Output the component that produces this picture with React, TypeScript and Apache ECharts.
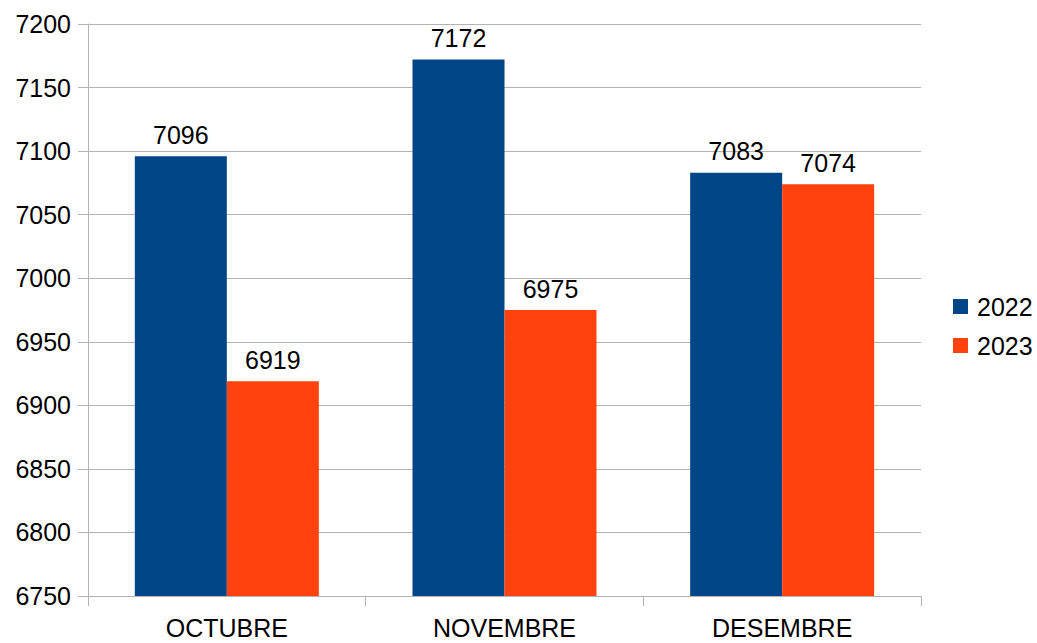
import React, { useEffect, useRef } from "react";
import * as echarts from "echarts";

const categories = ["OCTUBRE", "NOVEMBRE", "DESEMBRE"];
const series2022 = [7096, 7172, 7083];
const series2023 = [6919, 6975, 7074];
const seriesNames = ["2022", "2023"];

export default function App() {
  const ref = useRef<HTMLDivElement>(null);
  useEffect(() => {
    if (!ref.current) return;
    const chart = echarts.init(ref.current, null, { renderer: "svg" });
    const font = "'Liberation Sans', Arial, sans-serif";
    const fs = 25;
    const labelCommon = {
      show: true,
      position: "top" as const,
      distance: 9,
      color: "#000",
      fontSize: fs,
      fontFamily: font,
    };
    chart.setOption({
      animation: false,
      backgroundColor: "#fff",
      grid: { left: 88, right: 116, top: 24, bottom: 47 },
      legend: {
        orient: "vertical",
        left: 953,
        top: 294,
        padding: 0,
        itemWidth: 15,
        itemHeight: 15,
        itemGap: 14,
        icon: "rect",
        textStyle: { fontSize: fs, color: "#000", fontFamily: font, padding: [0, 0, 0, 4] },
        data: seriesNames,
      },
      xAxis: {
        type: "category",
        data: categories,
        axisLine: { lineStyle: { color: "#b3b3b3", width: 1 } },
        axisTick: { show: true, length: 10, lineStyle: { color: "#b3b3b3" } },
        axisLabel: { fontSize: fs, color: "#000", fontFamily: font, margin: 19 },
        splitLine: { show: false },
      },
      yAxis: {
        type: "value",
        min: 6750,
        max: 7200,
        interval: 50,
        axisLine: { show: true, lineStyle: { color: "#b3b3b3", width: 1 } },
        axisTick: { show: true, length: 10, lineStyle: { color: "#b3b3b3" } },
        axisLabel: {
          fontSize: fs,
          color: "#000",
          fontFamily: font,
          margin: 17,
          formatter: (v: number) => String(v),
        },
        splitLine: { show: true, lineStyle: { color: "#b3b3b3", width: 1 } },
      },
      series: [
        {
          name: seriesNames[0],
          type: "bar",
          data: series2022,
          barWidth: 92,
          barGap: "0%",
          itemStyle: { color: "#004586" },
          label: labelCommon,
        },
        {
          name: seriesNames[1],
          type: "bar",
          data: series2023,
          barWidth: 92,
          barGap: "0%",
          itemStyle: { color: "#ff420e" },
          label: labelCommon,
        },
      ],
    });
    return () => chart.dispose();
  }, []);
  return (
    <div
      ref={ref}
      style={{ position: "fixed", left: 0, top: 0, width: 1037, height: 643 }}
    />
  );
}
